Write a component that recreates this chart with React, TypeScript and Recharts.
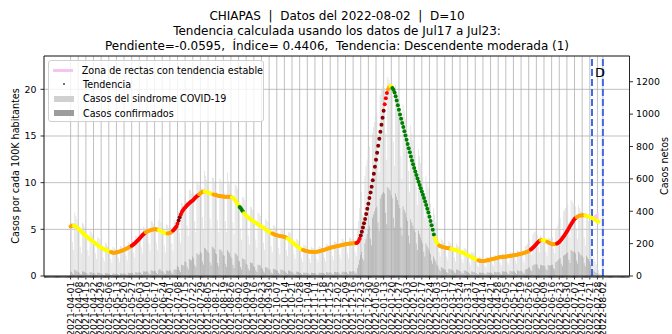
import {
  Area,
  Bar,
  CartesianGrid,
  ComposedChart,
  ReferenceLine,
  Scatter,
  XAxis,
  YAxis,
} from 'recharts';

// day 0 = 2021-04-01
const START = Date.UTC(2021, 3, 1);
const dayLabel = (d: number) =>
  new Date(START + d * 86400000).toISOString().slice(0, 10);

// tendencia (casos por cada 100K habitantes), one value per day
const trendValues = [
  5.30, 5.35, 5.40, 5.40, 5.35, 5.28, 5.18,
  5.08, 4.97, 4.85, 4.73, 4.61, 4.50, 4.40,
  4.30, 4.20, 4.10, 4.00, 3.91, 3.82, 3.74,
  3.65, 3.56, 3.47, 3.38, 3.29, 3.20, 3.12,
  3.05, 2.98, 2.91, 2.85, 2.80, 2.75, 2.70,
  2.65, 2.60, 2.56, 2.52, 2.50, 2.50, 2.51,
  2.53, 2.56, 2.60, 2.63, 2.67, 2.71, 2.75,
  2.80, 2.86, 2.92, 2.98, 3.04, 3.10, 3.17,
  3.25, 3.33, 3.42, 3.52, 3.63, 3.75, 3.87,
  4.00, 4.13, 4.26, 4.38, 4.49, 4.60, 4.68,
  4.75, 4.81, 4.86, 4.90, 4.94, 4.97, 4.99,
  5.00, 5.00, 4.99, 4.96, 4.92, 4.86, 4.80,
  4.74, 4.68, 4.62, 4.58, 4.55, 4.55, 4.57,
  4.61, 4.67, 4.76, 4.87, 5.00, 5.14, 5.30,
  5.60, 5.95, 6.30, 6.60, 6.85, 7.05, 7.20,
  7.35, 7.48, 7.60, 7.72, 7.83, 7.93, 8.02,
  8.10, 8.23, 8.35, 8.46, 8.56, 8.66, 8.76,
  8.86, 8.95, 9.03, 9.05, 9.05, 9.02, 8.98,
  8.94, 8.90, 8.86, 8.82, 8.78, 8.74, 8.70,
  8.67, 8.64, 8.61, 8.58, 8.56, 8.54, 8.52,
  8.51, 8.50, 8.50, 8.50, 8.50, 8.50, 8.50,
  8.48, 8.44, 8.36, 8.24, 8.08, 7.90, 7.72,
  7.55, 7.40, 7.25, 7.08, 6.90, 6.72, 6.57,
  6.45, 6.35, 6.26, 6.17, 6.08, 6.00, 5.92,
  5.84, 5.76, 5.68, 5.60, 5.52, 5.44, 5.37,
  5.30, 5.22, 5.14, 5.06, 4.98, 4.90, 4.82,
  4.74, 4.67, 4.60, 4.54, 4.49, 4.44, 4.40,
  4.36, 4.33, 4.30, 4.28, 4.26, 4.24, 4.22,
  4.19, 4.15, 4.10, 4.02, 3.93, 3.84, 3.75,
  3.65, 3.55, 3.45, 3.35, 3.25, 3.15, 3.06,
  2.97, 2.90, 2.84, 2.79, 2.75, 2.71, 2.68,
  2.65, 2.63, 2.61, 2.60, 2.59, 2.58, 2.58,
  2.58, 2.59, 2.61, 2.63, 2.66, 2.69, 2.72,
  2.75, 2.78, 2.82, 2.86, 2.90, 2.94, 2.98,
  3.02, 3.05, 3.08, 3.10, 3.13, 3.16, 3.19,
  3.21, 3.24, 3.27, 3.30, 3.33, 3.36, 3.38,
  3.40, 3.42, 3.44, 3.46, 3.47, 3.48, 3.49,
  3.50, 3.51, 3.52, 3.54, 3.60, 3.75, 4.00,
  4.35, 4.75, 5.20, 5.65, 6.10, 6.65, 7.20,
  7.75, 8.35, 8.95, 9.55, 10.25, 10.95, 11.70,
  12.45, 13.20, 13.95, 14.70, 15.45, 16.20, 16.95,
  17.70, 18.40, 19.05, 19.60, 20.00, 20.25, 20.35,
  20.30, 20.15, 19.95, 19.65, 19.25, 18.80, 18.30,
  17.80, 17.30, 16.85, 16.40, 15.95, 15.50, 15.05,
  14.60, 14.15, 13.70, 13.25, 12.80, 12.38, 11.98,
  11.58, 11.20, 10.82, 10.45, 10.10, 9.75, 9.40,
  9.05, 8.70, 8.35, 7.98, 7.60, 7.20, 6.80,
  6.35, 5.90, 5.45, 4.95, 4.45, 4.05, 3.75,
  3.55, 3.40, 3.28, 3.20, 3.15, 3.11, 3.08,
  3.05, 3.02, 3.00, 2.98, 2.96, 2.94, 2.91,
  2.88, 2.85, 2.82, 2.78, 2.74, 2.70, 2.66,
  2.62, 2.58, 2.53, 2.48, 2.42, 2.36, 2.30,
  2.24, 2.18, 2.12, 2.06, 2.00, 1.94, 1.88,
  1.82, 1.76, 1.71, 1.67, 1.64, 1.62, 1.61,
  1.61, 1.62, 1.64, 1.66, 1.68, 1.70, 1.73,
  1.76, 1.79, 1.82, 1.85, 1.88, 1.91, 1.94,
  1.97, 2.00, 2.02, 2.03, 2.04, 2.05, 2.06,
  2.07, 2.09, 2.11, 2.13, 2.15, 2.17, 2.19,
  2.21, 2.23, 2.25, 2.27, 2.30, 2.33, 2.36,
  2.39, 2.42, 2.45, 2.48, 2.52, 2.56, 2.61,
  2.67, 2.75, 2.84, 2.94, 3.05, 3.17, 3.30,
  3.43, 3.56, 3.68, 3.77, 3.83, 3.86, 3.86,
  3.84, 3.80, 3.74, 3.67, 3.60, 3.53, 3.47,
  3.43, 3.40, 3.39, 3.40, 3.43, 3.48, 3.55,
  3.65, 3.77, 3.91, 4.06, 4.22, 4.39, 4.57,
  4.76, 4.96, 5.17, 5.38, 5.58, 5.77, 5.95,
  6.10, 6.22, 6.31, 6.38, 6.43, 6.47, 6.49,
  6.50, 6.50, 6.49, 6.47, 6.44, 6.41, 6.37,
  6.33, 6.28, 6.22, 6.15, 6.08, 6.00, 5.92,
  5.85, 5.80,
];

// trend class per day: Y=estable, O=moderada, R=ascendente, D=ascendente fuerte, G=descendente
const trendClasses = [
  'OOOYYYY', 'YYYYYYY', 'YYYYYYY', 'YYYYYYY', 'YYYYYYY', 'YYOOOOO', 'OOOOOOO',
  'OOOOOOO', 'RRRRRRR', 'RRRRRRO', 'OOOOOOO', 'OOOOYYY', 'YYYYYOO', 'OOORRRR',
  'RDDRRRR', 'RRRRRRR', 'RRRRRRO', 'OOOOYYY', 'YYYYYOO', 'OOOOOOO', 'OOOOOOO',
  'OYYYYYY', 'YGGGGYY', 'YYYYYYY', 'YYYYYYY', 'YYYYYYY', 'YYYOOOO', 'OOOOOOO',
  'OOOYYYY', 'YYYYYYY', 'YYYOOOO', 'OOOOOOO', 'OOOOOOO', 'OOOOOOO', 'OOOOOOO',
  'OOOOOOO', 'OOOOOOO', 'OOORRRR', 'DDDDDDD', 'DDDDDDD', 'DDDDDDD', 'DRRROOY',
  'YGGGGGG', 'GGGGGGG', 'GGGGGGG', 'GGGGGGG', 'GGGGGGG', 'GGGGGYY', 'YYOOOOO',
  'OOOOOOY', 'YYYYYYY', 'YYYYYYY', 'YYYYYYY', 'YYYOOOO', 'OOOOOOO', 'OOOOOOO',
  'OOOOOOO', 'OOOOOOO', 'OOOOOOO', 'OOOOOOO', 'OORRRRR', 'RRRROOY', 'YYYOOOO',
  'OOOOORR', 'RRRRRRR', 'RRRRRRR', 'RROOOOO', 'OOOYYYY', 'YYYYYYY', 'YY',
].join('');

// casos del sindrome COVID-19 (casos netos), one value per day
const sindromeCases = [
  340, 330, 210, 160, 390, 370, 350,
  300, 285, 180, 140, 330, 320, 305,
  255, 240, 160, 125, 280, 275, 260,
  215, 205, 140, 105, 240, 235, 225,
  180, 175, 115, 90, 205, 200, 185,
  165, 155, 105, 80, 180, 175, 165,
  170, 160, 110, 85, 185, 180, 170,
  190, 180, 125, 95, 210, 205, 195,
  225, 215, 145, 115, 250, 245, 235,
  275, 265, 180, 140, 305, 300, 285,
  310, 295, 200, 155, 340, 335, 320,
  315, 300, 205, 160, 345, 480, 330,
  290, 280, 190, 145, 320, 315, 300,
  310, 300, 200, 155, 345, 340, 325,
  410, 395, 265, 205, 455, 450, 430,
  485, 465, 310, 245, 535, 530, 510,
  535, 510, 340, 270, 585, 580, 560,
  570, 545, 365, 285, 650, 620, 595,
  560, 530, 355, 280, 610, 605, 585,
  545, 520, 345, 270, 600, 590, 570,
  540, 515, 340, 270, 640, 585, 565,
  520, 495, 330, 260, 565, 560, 540,
  450, 430, 285, 225, 490, 485, 470,
  395, 375, 250, 195, 430, 425, 410,
  355, 340, 225, 175, 390, 385, 370,
  320, 305, 205, 160, 350, 345, 335,
  290, 275, 185, 145, 315, 310, 300,
  270, 260, 175, 135, 295, 290, 285,
  255, 240, 160, 125, 275, 270, 265,
  210, 200, 135, 105, 230, 225, 220,
  175, 170, 115, 90, 195, 190, 185,
  165, 160, 105, 80, 180, 175, 170,
  165, 160, 105, 85, 185, 180, 175,
  180, 175, 115, 90, 200, 195, 190,
  195, 190, 125, 100, 215, 210, 205,
  210, 200, 135, 105, 230, 225, 215,
  220, 210, 140, 110, 240, 235, 225,
  230, 220, 150, 125, 290, 340, 420,
  480, 520, 380, 320, 620, 680, 720,
  780, 800, 580, 470, 880, 920, 950,
  990, 1010, 760, 640, 1120, 1150, 1170,
  1180, 1160, 880, 720, 1230, 1210, 1190,
  1150, 1120, 830, 680, 1180, 1140, 1100,
  1050, 1000, 740, 600, 1060, 1020, 970,
  920, 880, 650, 520, 930, 880, 840,
  790, 750, 550, 440, 780, 740, 700,
  650, 610, 450, 360, 620, 580, 540,
  490, 450, 320, 250, 420, 380, 330,
  260, 230, 150, 120, 230, 220, 205,
  190, 180, 120, 95, 215, 205, 195,
  175, 170, 115, 90, 200, 190, 180,
  160, 150, 100, 80, 175, 170, 165,
  135, 125, 85, 65, 150, 145, 140,
  110, 100, 70, 55, 120, 115, 110,
  105, 100, 65, 50, 120, 115, 110,
  115, 110, 75, 60, 130, 125, 120,
  130, 125, 80, 65, 140, 135, 130,
  135, 130, 85, 70, 150, 145, 140,
  145, 140, 95, 75, 160, 155, 150,
  160, 150, 100, 80, 185, 190, 200,
  215, 225, 160, 130, 255, 270, 275,
  265, 255, 180, 145, 250, 240, 230,
  230, 220, 150, 120, 240, 235, 230,
  235, 240, 170, 140, 290, 300, 320,
  350, 360, 250, 200, 400, 410, 420,
  430, 440, 300, 240, 470, 460, 450,
  450, 430, 290, 230, 440, 420, 400,
  380, 360, 240, 190, 390, 370, 340,
  300, 240, 130, 90, 120, 90, 70,
  55, 40, 20, 12, 8, 4,
];

// casos confirmados, one value per day
const confirmedCases = [
  30, 25, 15, 10, 40, 35, 30,
  25, 20, 12, 8, 30, 28, 25,
  20, 18, 10, 8, 25, 22, 20,
  18, 15, 10, 6, 20, 20, 18,
  15, 12, 8, 5, 18, 16, 15,
  12, 12, 6, 5, 15, 15, 12,
  14, 12, 8, 5, 16, 15, 14,
  16, 15, 9, 6, 20, 18, 17,
  20, 18, 10, 8, 25, 22, 20,
  25, 22, 14, 10, 30, 28, 26,
  30, 28, 16, 12, 35, 32, 30,
  32, 30, 18, 12, 36, 45, 34,
  30, 28, 16, 12, 34, 32, 30,
  35, 32, 20, 14, 40, 40, 38,
  60, 55, 35, 25, 70, 68, 65,
  90, 85, 55, 40, 105, 100, 95,
  120, 110, 70, 55, 140, 135, 130,
  150, 140, 90, 70, 175, 170, 160,
  150, 140, 85, 65, 180, 175, 165,
  140, 135, 80, 60, 165, 160, 150,
  130, 125, 75, 55, 160, 150, 140,
  120, 110, 70, 50, 140, 135, 125,
  95, 90, 55, 40, 110, 105, 100,
  75, 70, 45, 32, 85, 80, 78,
  60, 55, 35, 25, 70, 68, 65,
  50, 45, 28, 20, 55, 52, 50,
  40, 38, 22, 15, 45, 42, 40,
  35, 32, 20, 14, 40, 38, 36,
  30, 28, 18, 12, 34, 32, 30,
  25, 22, 14, 10, 28, 26, 25,
  20, 18, 12, 8, 22, 20, 20,
  18, 16, 10, 7, 20, 19, 18,
  18, 16, 10, 8, 20, 20, 18,
  20, 18, 12, 8, 24, 22, 20,
  22, 20, 12, 9, 26, 24, 22,
  24, 22, 14, 10, 28, 26, 24,
  26, 24, 15, 10, 30, 28, 26,
  30, 30, 20, 16, 50, 70, 100,
  130, 150, 110, 95, 200, 230, 260,
  290, 310, 230, 190, 360, 380, 400,
  420, 430, 330, 280, 480, 500, 510,
  520, 510, 390, 320, 550, 540, 530,
  500, 480, 360, 300, 510, 490, 470,
  440, 420, 300, 250, 430, 410, 390,
  360, 340, 250, 200, 350, 330, 310,
  290, 270, 200, 160, 280, 260, 240,
  220, 200, 150, 120, 200, 185, 170,
  150, 135, 95, 75, 120, 105, 90,
  70, 60, 40, 30, 55, 50, 45,
  40, 38, 25, 18, 45, 42, 40,
  35, 32, 22, 16, 40, 38, 35,
  30, 28, 18, 14, 35, 32, 30,
  25, 22, 15, 10, 28, 26, 25,
  20, 18, 12, 8, 22, 20, 20,
  20, 18, 12, 8, 22, 22, 20,
  22, 20, 14, 10, 26, 24, 22,
  25, 24, 15, 10, 30, 28, 26,
  28, 26, 16, 12, 32, 30, 28,
  30, 28, 18, 12, 35, 32, 30,
  32, 30, 20, 15, 40, 42, 45,
  50, 55, 38, 30, 65, 70, 72,
  75, 70, 50, 40, 70, 68, 65,
  65, 62, 42, 34, 68, 66, 65,
  68, 70, 50, 40, 85, 90, 95,
  105, 110, 75, 60, 125, 130, 135,
  140, 145, 100, 80, 160, 155, 150,
  150, 140, 95, 75, 150, 140, 130,
  125, 115, 78, 60, 125, 115, 105,
  90, 70, 40, 25, 35, 25, 18,
  15, 10, 5, 3, 2, 1,
];

// zona de rectas con tendencia estable, from 2022-07-23 (day 478)
const stableStart = 478;
const stableLow = [6.3, 6.2, 6.1, 6.0, 5.95, 5.85, 5.8];
const stableHigh = [6.3, 6.4, 6.5, 6.55, 6.65, 6.72, 6.78];

const cutDay = 478; // Jul23
const reportDay = 488; // 2022-08-02

const leftTicks = [0, 5, 10, 15, 20];
const rightTicks = [0, 200, 400, 600, 800, 1000, 1200];
const majorTicks = [...Array.from({ length: 70 }, (_, i) => i * 7), reportDay];
const minorTicks = Array.from({ length: 537 }, (_, i) => i - 24);
const majorSet = new Set(majorTicks);

const X_DOMAIN: [number, number] = [-24.4, 512.4];
const LEFT_MAX = 23.57;
const RIGHT_MAX = 1359;

const classColor: Record<string, string> = {
  Y: '#ffff00',
  O: '#ffa500',
  R: '#ff0000',
  D: '#8b0000',
  G: '#008000',
};

const caseRows = sindromeCases.map((s, d) => ({ d, s, c: confirmedCases[d] }));
const trendRows = trendValues.map((v, d) => ({ d, v, k: trendClasses[d] }));
const stableRows = stableLow.map((lo, i) => ({
  d: stableStart + i,
  band: [lo, stableHigh[i]],
}));

const FONT = '"DejaVu Sans", sans-serif';

const XTick = (props: any) => {
  const { x, y, payload } = props;
  const major = majorSet.has(payload.value);
  const ly = y + 5.5;
  return (
    <g>
      <line
        x1={x}
        x2={x}
        y1={y}
        y2={y + (major ? 3.5 : 2)}
        stroke="#000"
        strokeWidth={major ? 0.8 : 0.6}
      />
      {major && (
        <text
          x={x}
          y={ly}
          transform={`rotate(-90 ${x} ${ly})`}
          textAnchor="end"
          dy="0.35em"
          fontSize={9.4}
          fill="#000"
        >
          {dayLabel(payload.value)}
        </text>
      )}
    </g>
  );
};

const TrendDot = (props: any) => {
  const { cx, cy, payload } = props;
  if (cx == null || cy == null) return <g />;
  return <circle cx={cx} cy={cy} r={2} fill={classColor[payload.k]} />;
};

function Legend() {
  const row = {
    display: 'flex',
    alignItems: 'center',
    height: 14.3,
    whiteSpace: 'nowrap',
  } as const;
  const key = { width: 24, display: 'flex', justifyContent: 'center', marginRight: 7 } as const;
  return (
    <div
      style={{
        position: 'absolute',
        left: 48,
        top: 60,
        width: 216,
        height: 62,
        boxSizing: 'border-box',
        border: '1px solid #d0d0d0',
        borderRadius: 3,
        background: 'rgba(255,255,255,0.8)',
        padding: '2px 0 0 3px',
        fontSize: 9.6,
        color: '#000',
      }}
    >
      <div style={row}>
        <span style={key}>
          <span style={{ width: 20, height: 3, background: '#f6c4f1' }} />
        </span>
        Zona de rectas con tendencia estable
      </div>
      <div style={row}>
        <span style={key}>
          <span style={{ width: 2, height: 2, borderRadius: 1, background: '#444' }} />
        </span>
        Tendencia
      </div>
      <div style={row}>
        <span style={key}>
          <span style={{ width: 20, height: 6, background: '#d0d0d0' }} />
        </span>
        Casos del sindrome COVID-19
      </div>
      <div style={row}>
        <span style={key}>
          <span style={{ width: 20, height: 6, background: '#9c9c9c' }} />
        </span>
        Casos confirmados
      </div>
    </div>
  );
}

export default function App() {
  return (
    <div
      style={{
        position: 'absolute',
        left: 0,
        top: 0,
        width: 672,
        height: 334,
        background: '#fff',
        fontFamily: FONT,
        overflow: 'hidden',
      }}
    >
      <div
        style={{
          position: 'absolute',
          left: 0,
          top: 8.5,
          width: 674,
          textAlign: 'center',
          fontSize: 12,
          lineHeight: '15px',
          color: '#000',
          whiteSpace: 'pre',
        }}
      >
        {'CHIAPAS  |  Datos del 2022-08-02  |  D=10\n'}
        {'Tendencia calculada usando los datos de Jul17 a Jul23:\n'}
        {'Pendiente=-0.0595,  Índice= 0.4406,  Tendencia: Descendente moderada (1)'}
      </div>

      <ComposedChart
        width={672}
        height={334}
        data={caseRows}
        margin={{ top: 56, right: 0, bottom: 0, left: 0 }}
      >
        <XAxis
          dataKey="d"
          type="number"
          domain={X_DOMAIN}
          allowDataOverflow
          ticks={minorTicks}
          interval={0}
          tick={<XTick />}
          tickLine={false}
          tickSize={0}
          tickMargin={0}
          height={58}
          axisLine={{ stroke: '#000', strokeWidth: 0.8 }}
        />
        <XAxis
          xAxisId="grid"
          dataKey="d"
          type="number"
          domain={X_DOMAIN}
          allowDataOverflow
          ticks={majorTicks}
          interval={0}
          hide
        />
        <YAxis
          yAxisId="left"
          dataKey="v"
          type="number"
          domain={[0, LEFT_MAX]}
          allowDataOverflow
          ticks={leftTicks}
          interval={0}
          width={44}
          tickSize={3.5}
          tickMargin={4}
          tick={{ fill: '#000', fontSize: 9.4 }}
          tickLine={{ stroke: '#000', strokeWidth: 0.8 }}
          axisLine={{ stroke: '#000', strokeWidth: 0.8 }}
        />
        <YAxis
          yAxisId="right"
          orientation="right"
          type="number"
          domain={[0, RIGHT_MAX]}
          allowDataOverflow
          ticks={rightTicks}
          interval={0}
          width={42.5}
          tickSize={3.5}
          tickMargin={3}
          tick={{ fill: '#000', fontSize: 9.4 }}
          tickLine={{ stroke: '#000', strokeWidth: 0.8 }}
          axisLine={{ stroke: '#000', strokeWidth: 0.8 }}
        />
        <CartesianGrid
          xAxisId="grid"
          yAxisId="left"
          stroke="#b0b0b0"
          strokeWidth={0.8}
        />
        <Bar
          yAxisId="right"
          dataKey="s"
          fill="#d3d3d3"
          fillOpacity={0.8}
          barSize={0.7}
          isAnimationActive={false}
        />
        <Bar
          xAxisId="grid"
          yAxisId="right"
          dataKey="c"
          fill="#a0a0a0"
          fillOpacity={0.85}
          barSize={0.7}
          isAnimationActive={false}
        />
        <Area
          yAxisId="left"
          data={stableRows}
          dataKey="band"
          type="linear"
          stroke="none"
          fill="#f6c4f1"
          fillOpacity={1}
          dot={false}
          activeDot={false}
          isAnimationActive={false}
        />
        <Scatter
          yAxisId="left"
          data={trendRows}
          dataKey="v"
          shape={<TrendDot />}
          isAnimationActive={false}
        />
        <ReferenceLine
          yAxisId="left"
          x={cutDay}
          stroke="#4169e1"
          strokeWidth={2}
          strokeDasharray="7 3"
        />
        <ReferenceLine
          yAxisId="left"
          x={reportDay}
          stroke="#4169e1"
          strokeWidth={2}
          strokeDasharray="7 3"
        />
        <ReferenceLine yAxisId="left" y={LEFT_MAX} stroke="#000" strokeWidth={0.8} />
      </ComposedChart>

      <Legend />

      <div
        style={{
          position: 'absolute',
          left: 600,
          top: 72,
          transform: 'translate(-50%, -50%)',
          fontSize: 13,
          color: '#000',
        }}
      >
        D
      </div>
      <div
        style={{
          position: 'absolute',
          left: 15,
          top: 166,
          transform: 'translate(-50%, -50%) rotate(-90deg)',
          fontSize: 9.6,
          whiteSpace: 'nowrap',
          color: '#000',
        }}
      >
        Casos por cada 100K habitantes
      </div>
      <div
        style={{
          position: 'absolute',
          left: 664,
          top: 166,
          transform: 'translate(-50%, -50%) rotate(-90deg)',
          fontSize: 9.6,
          whiteSpace: 'nowrap',
          color: '#000',
        }}
      >
        Casos netos
      </div>
    </div>
  );
}
